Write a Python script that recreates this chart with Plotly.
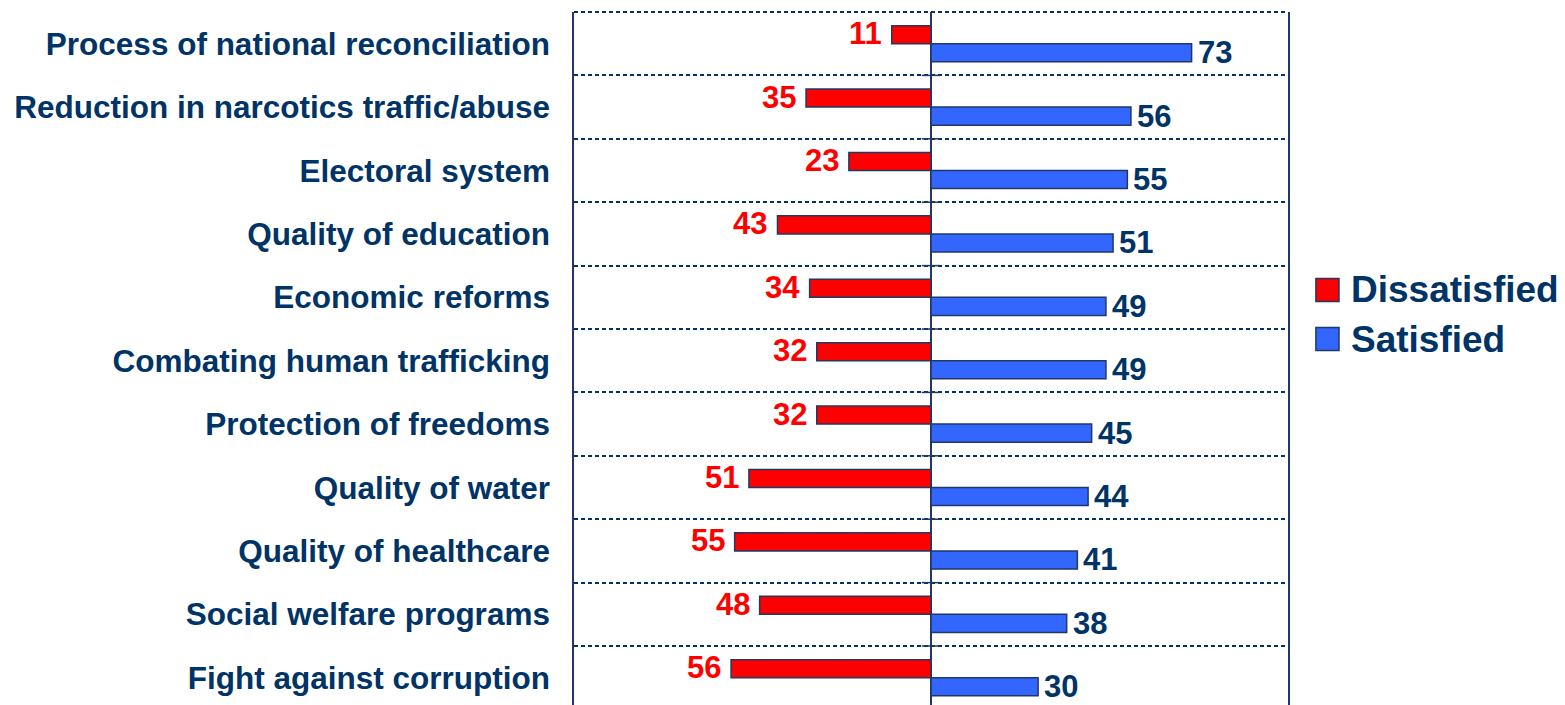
import plotly.graph_objects as go

categories = [
    "Process of national reconciliation",
    "Reduction in narcotics traffic/abuse",
    "Electoral system",
    "Quality of education",
    "Economic reforms",
    "Combating human trafficking",
    "Protection of freedoms",
    "Quality of water",
    "Quality of healthcare",
    "Social welfare programs",
    "Fight against corruption",
]
dissatisfied = [11, 35, 23, 43, 34, 32, 32, 51, 55, 48, 56]
satisfied = [73, 56, 55, 51, 49, 49, 45, 44, 41, 38, 30]

NAVY = "#003366"
RED = "#FF0000"
BLUE = "#3366FF"
EDGE = "#1F3864"
FONT = "Liberation Sans, Arial, sans-serif"
BW = 0.285
DASH = "4px,3px"

pos = list(range(len(categories)))

fig = go.Figure()
fig.add_trace(go.Bar(
    y=pos, x=[-v for v in dissatisfied], orientation="h",
    width=BW, offset=-BW, marker=dict(color=RED, line=dict(color=EDGE, width=1.5)),
    name="Dissatisfied", showlegend=False, hoverinfo="skip",
))
fig.add_trace(go.Bar(
    y=pos, x=satisfied, orientation="h",
    width=BW, offset=0, marker=dict(color=BLUE, line=dict(color=EDGE, width=1.5)),
    name="Satisfied", showlegend=False, hoverinfo="skip",
))

for i, v in enumerate(dissatisfied):
    fig.add_annotation(x=-v, y=i - BW / 2, text=f"<b>{v}</b>", showarrow=False,
                       xanchor="right", yanchor="middle", xshift=-8, yshift=1,
                       font=dict(family=FONT, size=31, color=RED))
for i, v in enumerate(satisfied):
    fig.add_annotation(x=v, y=i + BW / 2, text=f"<b>{v}</b>", showarrow=False,
                       xanchor="left", yanchor="middle", xshift=4, yshift=0,
                       font=dict(family=FONT, size=31, color=NAVY))

# small ticks on the zero line at category boundaries
for i in range(len(categories)):
    b = i + 0.5
    fig.add_shape(type="line", x0=-2.6, x1=2.5, y0=b, y1=b, xref="x", yref="y",
                  line=dict(color=EDGE, width=1.5), layer="above")

# dashed top border
fig.add_shape(type="line", xref="paper", yref="paper", x0=0, x1=1, y0=1, y1=1,
              line=dict(color=NAVY, width=2, dash=DASH), layer="above")

# legend drawn manually
legend_items = [("Dissatisfied", RED, 0.599), ("Satisfied", BLUE, 0.528)]
for name, col, yy in legend_items:
    fig.add_shape(type="rect", xref="paper", yref="paper",
                  x0=1.0391, x1=1.0714, y0=yy - 0.0166, y1=yy + 0.0166,
                  fillcolor=col, line=dict(color=EDGE, width=1.5))
    fig.add_annotation(xref="paper", yref="paper", x=1.0855, y=yy, text=f"<b>{name}</b>",
                       showarrow=False, xanchor="left", yanchor="middle",
                       font=dict(family=FONT, size=37, color=NAVY))

fig.update_layout(
    width=1565, height=705,
    margin=dict(l=574, r=277, t=12, b=0, autoexpand=False),
    plot_bgcolor="white", paper_bgcolor="white",
    barmode="overlay",
    showlegend=False,
    font=dict(family=FONT, color=NAVY),
)
fig.update_xaxes(range=[-100, 100], showticklabels=False, showgrid=False,
                 zeroline=True, zerolinecolor=EDGE, zerolinewidth=1.5,
                 showline=False, ticks="")
fig.update_yaxes(range=[10.43, -0.5], tickmode="array", tickvals=pos,
                 ticktext=[f"<b>{c}</b>" for c in categories],
                 tickfont=dict(family=FONT, size=31.5, color=NAVY),
                 ticks="", ticklabelstandoff=16,
                 showgrid=False, zeroline=False,
                 showline=True, linecolor=EDGE, linewidth=1.5, mirror=True,
                 minor=dict(tickmode="linear", tick0=0.5, dtick=1, showgrid=True,
                            gridcolor=NAVY, gridwidth=2, griddash=DASH, ticks=""))

fig.write_html("out.html", config={"displayModeBar": False},
               post_script="document.body.style.margin='0';document.body.style.overflow='hidden';")
